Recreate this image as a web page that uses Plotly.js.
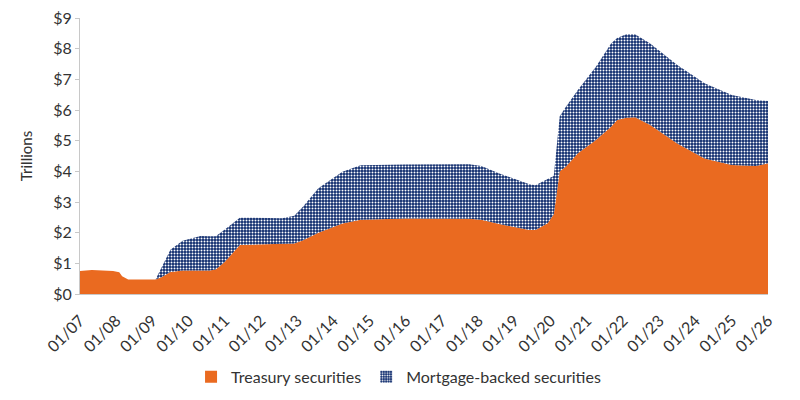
<!DOCTYPE html>
<html>
<head>
<meta charset="utf-8">
<script src="https://cdn.plot.ly/plotly-3.0.1.min.js"></script>
<style>
  html, body { margin:0; padding:0; background:#fff; }
  #chart { width:800px; height:400px; }
</style>
</head>
<body>
<div id="chart"></div>
<script>
// ── data (trillions USD) ──
const dates = [
  '2007-01','2007-05','2007-12','2008-02','2008-03','2008-05','2009-02','2009-04',
  '2009-07','2009-11','2010-03','2010-05','2010-08','2010-10','2011-01','2011-06',
  '2012-08','2012-12','2013-03','2013-08','2014-04','2014-10','2016-01','2017-10',
  '2018-02','2018-08','2019-06','2019-08','2019-12','2020-02','2020-04','2020-06',
  '2020-10','2021-04','2021-09','2021-11','2022-02','2022-05','2022-10','2023-07',
  '2024-04','2025-01','2025-09','2026-01'
];
const treasury = [
  0.75, 0.78, 0.75, 0.71, 0.58, 0.47, 0.47, 0.55,
  0.72, 0.77, 0.77, 0.77, 0.77, 0.80, 1.05, 1.60,
  1.65, 1.65, 1.75, 2.00, 2.30, 2.42, 2.46, 2.45,
  2.42, 2.28, 2.09, 2.09, 2.31, 2.60, 4.00, 4.15,
  4.59, 5.02, 5.45, 5.67, 5.75, 5.76, 5.51, 4.91,
  4.42, 4.21, 4.17, 4.26
];
const mbs = [
  0, 0, 0, 0, 0, 0, 0, 0.30,
  0.72, 0.97, 1.07, 1.12, 1.11, 1.08, 1.05, 0.89,
  0.82, 0.90, 1.10, 1.45, 1.69, 1.78, 1.76, 1.78,
  1.75, 1.65, 1.49, 1.46, 1.44, 1.25, 1.80, 1.95,
  2.06, 2.39, 2.72, 2.68, 2.72, 2.71, 2.66, 2.56,
  2.45, 2.28, 2.16, 2.03
];
const seriesNames = ['Treasury securities', 'Mortgage-backed securities'];
const yTicks = [0,1,2,3,4,5,6,7,8,9];
const yTickText = yTicks.map(v => '$' + v);
const xTicks = [];
for (let y = 2007; y <= 2026; y++) xTicks.push(y + '-01-01');

const ORANGE = '#EA6A20';
const NAVY   = '#0D2A6C';
const FONT   = 'Lato, "Open Sans", sans-serif';
const DOTS   = {shape:'.', bgcolor:NAVY, fgcolor:'#ffffff', size:3, solidity:0.35};

const traces = [
  {
    x: dates, y: treasury, name: seriesNames[0], showlegend:false,
    type: 'scatter', mode: 'lines', stackgroup: 'one',
    line: {width:0, color:ORANGE}, fillcolor: ORANGE,
    hoverinfo: 'skip'
  },
  {
    x: dates, y: mbs, name: seriesNames[1], showlegend:false,
    type: 'scatter', mode: 'lines', stackgroup: 'one',
    line: {width:0, color:NAVY}, fillcolor: NAVY,
    fillpattern: DOTS,
    hoverinfo: 'skip'
  },
  // legend-only swatches (square icons like the original)
  { type:'bar', x:[null], y:[null], name: seriesNames[0],
    marker:{color:ORANGE, line:{width:0}}, hoverinfo:'skip' },
  { type:'bar', x:[null], y:[null], name: seriesNames[1],
    marker:{color:NAVY, pattern:DOTS, line:{width:0}}, hoverinfo:'skip' }
];

const layout = {
  width: 800, height: 400,
  paper_bgcolor: '#fff', plot_bgcolor: '#fff',
  margin: {l:80, r:32, t:18, b:106, autoexpand:false},
  font: {family: FONT, color:'#333', size:15},
  showlegend: true,
  legend: {
    orientation:'h', x:0.463, xanchor:'center', y:-0.3, yanchor:'middle',
    font:{size:16, color:'#333'}, traceorder:'normal', itemwidth:30
  },
  xaxis: {
    type:'date', range:['2007-01-01','2026-01-01'],
    tickvals: xTicks, tickformat:'%m/%y', tickangle:-45,
    tickfont:{size:16, color:'#333'}, ticklabelstandoff:10,
    showgrid:false, zeroline:false, automargin:false,
    showline:true, linecolor:'#c8c8c8', linewidth:1,
    ticks:'', fixedrange:true
  },
  yaxis: {
    range:[0,9], tickvals: yTicks, ticktext: yTickText,
    tickfont:{size:16, color:'#333'},
    showgrid:false, zeroline:false, automargin:false,
    showline:true, linecolor:'#c8c8c8', linewidth:1,
    ticks:'outside', ticklen:4, tickcolor:'#c8c8c8',
    title:{text:'Trillions', font:{size:15, color:'#333'}, standoff:16},
    fixedrange:true
  }
};

Plotly.newPlot('chart', traces, layout, {displayModeBar:false, staticPlot:true});
</script>
</body>
</html>
